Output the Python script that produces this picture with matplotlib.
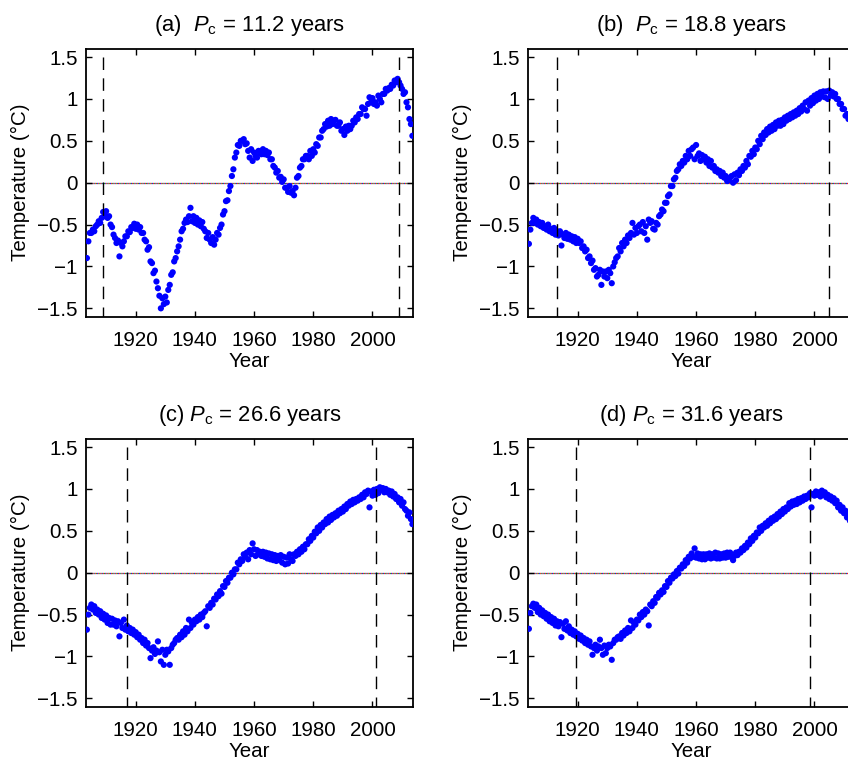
import numpy as np
import matplotlib
matplotlib.use("Agg")
import matplotlib.pyplot as plt

plt.rcParams['font.family'] = ['Liberation Sans', 'DejaVu Sans']
plt.rcParams['mathtext.fontset'] = 'custom'
plt.rcParams['mathtext.rm'] = 'Liberation Sans'
plt.rcParams['mathtext.it'] = 'Liberation Sans:italic'

# time axis: half-year steps starting 1903.5
t_start, t_step = 1903.5, 0.5

temp_a = [
    -0.90,
    -0.70, -0.60, -0.60, -0.56, -0.58, -0.52, -0.50, -0.46, -0.48, -0.42,
    -0.35, -0.40, -0.34, -0.42, -0.40, -0.50, -0.53, -0.62, -0.66, -0.72,
    -0.69, -0.88, -0.72, -0.76, -0.70, -0.64, -0.64, -0.58, -0.59, -0.53,
    -0.54, -0.49, -0.55, -0.50, -0.56, -0.53, -0.60, -0.60, -0.68, -0.70,
    -0.80, -0.77, -0.94, -0.96, -1.08, -1.05, -1.18, -1.26, -1.35, -1.50,
    -1.38, -1.45, -1.36, -1.43, -1.28, -1.22, -1.10, -1.07, -0.94, -0.90,
    -0.82, -0.76, -0.68, -0.58, -0.55, -0.48, -0.44, -0.47, -0.40, -0.30,
    -0.46, -0.40, -0.48, -0.42, -0.50, -0.45, -0.52, -0.47, -0.55, -0.58,
    -0.66, -0.60, -0.68, -0.72, -0.65, -0.74, -0.68, -0.60, -0.62, -0.54,
    -0.50, -0.38, -0.34, -0.22, -0.21, -0.10, -0.04, 0.08, 0.16, 0.30,
    0.36, 0.45, 0.44, 0.50, 0.50, 0.52, 0.46, 0.47, 0.38, 0.30,
    0.40, 0.26, 0.36, 0.32, 0.30, 0.38, 0.36, 0.34, 0.40, 0.34,
    0.38, 0.33, 0.36, 0.28, 0.28, 0.20, 0.18, 0.12, 0.14, 0.06,
    0.07, 0.01, 0.04, -0.06, -0.06, -0.11, -0.04, -0.12, -0.10, -0.15,
    -0.06, 0.06, 0.08, 0.18, 0.20, 0.28, 0.28, 0.32, 0.32, 0.28,
    0.38, 0.32, 0.40, 0.36, 0.46, 0.44, 0.54, 0.54, 0.62, 0.64,
    0.70, 0.67, 0.74, 0.68, 0.76, 0.70, 0.74, 0.75, 0.68, 0.68,
    0.72, 0.62, 0.64, 0.57, 0.67, 0.62, 0.68, 0.64, 0.68, 0.74,
    0.72, 0.78, 0.76, 0.82, 0.82, 0.90, 0.88, 0.88, 0.80, 0.94,
    1.02, 0.96, 1.01, 0.94, 0.96, 0.92, 1.04, 1.00, 0.96, 1.06,
    1.06, 1.12, 1.10, 1.13, 1.12, 1.17, 1.16, 1.22, 1.20, 1.24,
    1.20, 1.16, 1.12, 1.06, 1.08, 0.96, 0.90, 0.76, 0.70, 0.56,
]

temp_b = [
    -0.73,
    -0.56, -0.48, -0.42, -0.48, -0.44, -0.50, -0.47, -0.52, -0.48, -0.54,
    -0.52, -0.56, -0.50, -0.58, -0.55, -0.60, -0.54, -0.62, -0.58, -0.63,
    -0.58, -0.75, -0.62, -0.66, -0.60, -0.67, -0.62, -0.68, -0.64, -0.70,
    -0.65, -0.72, -0.67, -0.72, -0.70, -0.78, -0.76, -0.82, -0.80, -0.90,
    -0.88, -0.96, -0.93, -1.04, -1.02, -1.12, -1.10, -1.04, -1.22, -1.06,
    -1.12, -1.06, -1.14, -1.04, -1.08, -1.20, -1.00, -0.95, -0.90, -0.88,
    -0.78, -0.82, -0.72, -0.76, -0.68, -0.72, -0.63, -0.66, -0.60, -0.48,
    -0.62, -0.54, -0.60, -0.52, -0.50, -0.58, -0.47, -0.60, -0.52, -0.68,
    -0.44, -0.48, -0.46, -0.55, -0.56, -0.48, -0.50, -0.40, -0.38, -0.32,
    -0.34, -0.24, -0.24, -0.16, -0.14, -0.04, -0.04, 0.04, 0.06, 0.14,
    0.16, 0.22, 0.20, 0.26, 0.24, 0.32, 0.28, 0.38, 0.32, 0.40,
    0.42, 0.28, 0.45, 0.32, 0.35, 0.26, 0.33, 0.28, 0.31, 0.24,
    0.28, 0.20, 0.26, 0.18, 0.20, 0.14, 0.16, 0.12, 0.14, 0.08,
    0.12, 0.06, 0.08, 0.02, 0.03, 0.06, 0.08, 0.00, 0.10, 0.03,
    0.12, 0.09, 0.16, 0.14, 0.20, 0.18, 0.26, 0.22, 0.32, 0.31,
    0.38, 0.34, 0.42, 0.40, 0.50, 0.46, 0.56, 0.52, 0.60, 0.57,
    0.64, 0.60, 0.67, 0.62, 0.69, 0.64, 0.72, 0.68, 0.74, 0.68,
    0.75, 0.70, 0.78, 0.74, 0.80, 0.76, 0.82, 0.78, 0.84, 0.80,
    0.86, 0.82, 0.89, 0.85, 0.92, 0.88, 0.96, 0.86, 0.98, 0.92,
    1.01, 0.95, 1.04, 0.98, 1.06, 1.00, 1.08, 1.03, 1.09, 1.02,
    1.09, 1.00, 1.10, 1.04, 1.08, 1.03, 1.06, 1.00, 1.00, 0.94,
    0.94, 0.88, 0.88, 0.80, 0.82, 0.76, 0.78, 0.72, 0.72, 0.68,
]

temp_c = [
    -0.68,
    -0.50, -0.42, -0.38, -0.44, -0.40, -0.48, -0.44, -0.50, -0.46, -0.54,
    -0.49, -0.56, -0.51, -0.60, -0.54, -0.62, -0.55, -0.62, -0.57, -0.64,
    -0.58, -0.76, -0.60, -0.66, -0.56, -0.68, -0.63, -0.70, -0.66, -0.72,
    -0.68, -0.74, -0.71, -0.77, -0.74, -0.80, -0.78, -0.84, -0.80, -0.87,
    -0.84, -0.90, -1.02, -0.93, -0.89, -0.97, -0.93, -0.82, -0.95, -1.06,
    -0.92, -1.10, -0.98, -0.92, -0.94, -1.10, -0.90, -0.86, -0.84, -0.80,
    -0.78, -0.80, -0.74, -0.77, -0.70, -0.74, -0.66, -0.70, -0.56, -0.66,
    -0.60, -0.62, -0.56, -0.58, -0.53, -0.56, -0.50, -0.53, -0.48, -0.46,
    -0.64, -0.40, -0.42, -0.36, -0.38, -0.31, -0.32, -0.26, -0.28, -0.22,
    -0.25, -0.16, -0.17, -0.10, -0.12, -0.06, -0.06, 0.00, -0.02, 0.04,
    0.04, 0.12, 0.10, 0.16, 0.14, 0.22, 0.19, 0.24, 0.16, 0.27,
    0.22, 0.35, 0.28, 0.20, 0.27, 0.22, 0.25, 0.20, 0.25, 0.19,
    0.24, 0.17, 0.23, 0.16, 0.22, 0.15, 0.21, 0.14, 0.20, 0.15,
    0.21, 0.12, 0.19, 0.10, 0.18, 0.11, 0.22, 0.16, 0.14, 0.22,
    0.20, 0.25, 0.22, 0.28, 0.25, 0.31, 0.28, 0.34, 0.34, 0.40,
    0.38, 0.44, 0.42, 0.49, 0.47, 0.54, 0.50, 0.57, 0.54, 0.60,
    0.58, 0.64, 0.60, 0.67, 0.63, 0.69, 0.66, 0.71, 0.68, 0.74,
    0.71, 0.76, 0.73, 0.79, 0.76, 0.82, 0.80, 0.85, 0.82, 0.87,
    0.84, 0.88, 0.86, 0.90, 0.88, 0.93, 0.90, 0.96, 0.94, 0.98,
    0.78, 0.97, 0.92, 0.99, 0.93, 1.00, 0.95, 1.02, 0.99, 1.01,
    0.96, 1.00, 0.96, 0.98, 0.93, 0.97, 0.91, 0.94, 0.88, 0.90,
    0.84, 0.88, 0.80, 0.84, 0.76, 0.74, 0.68, 0.72, 0.64, 0.58,
]

temp_d = [
    -0.67,
    -0.48, -0.40, -0.37, -0.42, -0.38, -0.47, -0.42, -0.50, -0.45, -0.52,
    -0.48, -0.55, -0.50, -0.58, -0.53, -0.60, -0.55, -0.63, -0.58, -0.64,
    -0.59, -0.77, -0.61, -0.67, -0.58, -0.69, -0.64, -0.72, -0.68, -0.74,
    -0.70, -0.76, -0.73, -0.79, -0.75, -0.81, -0.78, -0.84, -0.80, -0.86,
    -0.82, -0.88, -0.98, -0.90, -0.86, -0.93, -0.88, -0.80, -0.90, -0.98,
    -0.87, -0.96, -0.90, -0.86, -0.88, -1.04, -0.84, -0.80, -0.80, -0.77,
    -0.76, -0.79, -0.72, -0.75, -0.69, -0.72, -0.66, -0.70, -0.57, -0.66,
    -0.60, -0.62, -0.56, -0.57, -0.50, -0.53, -0.47, -0.50, -0.44, -0.46,
    -0.63, -0.38, -0.40, -0.34, -0.36, -0.29, -0.30, -0.24, -0.26, -0.21,
    -0.23, -0.16, -0.17, -0.10, -0.12, -0.06, -0.07, -0.02, -0.04, 0.02,
    -0.01, 0.06, 0.05, 0.10, 0.08, 0.15, 0.12, 0.19, 0.17, 0.23,
    0.19, 0.29, 0.18, 0.23, 0.17, 0.22, 0.16, 0.22, 0.16, 0.22,
    0.18, 0.23, 0.17, 0.22, 0.18, 0.24, 0.17, 0.23, 0.17, 0.22,
    0.18, 0.23, 0.18, 0.24, 0.19, 0.24, 0.19, 0.15, 0.20, 0.24,
    0.21, 0.25, 0.24, 0.29, 0.27, 0.32, 0.30, 0.36, 0.34, 0.41,
    0.38, 0.44, 0.42, 0.48, 0.47, 0.54, 0.50, 0.56, 0.54, 0.59,
    0.56, 0.62, 0.59, 0.65, 0.62, 0.67, 0.64, 0.70, 0.67, 0.73,
    0.70, 0.76, 0.73, 0.78, 0.76, 0.83, 0.79, 0.85, 0.81, 0.86,
    0.82, 0.88, 0.84, 0.89, 0.86, 0.91, 0.88, 0.92, 0.90, 0.95,
    0.78, 0.94, 0.92, 0.97, 0.93, 0.96, 0.91, 0.98, 0.93, 0.96,
    0.90, 0.93, 0.88, 0.91, 0.86, 0.89, 0.83, 0.86, 0.78, 0.81,
    0.74, 0.78, 0.71, 0.74, 0.66, 0.70, 0.62, 0.66, 0.58, 0.62,
]

panel_labels = ["(a)  ", "(b)  ", "(c) ", "(d) "]
cutoff_periods = ["11.2", "18.8", "26.6", "31.6"]
dashed_left = [1909.0, 1913.0, 1916.9, 1919.5]
dashed_right = [2009.0, 2004.9, 2001.3, 1998.5]

x_ticks = [1920, 1940, 1960, 1980, 2000]
y_ticks = [-1.5, -1, -0.5, 0, 0.5, 1, 1.5]
y_ticklabels = ["\u22121.5", "\u22121", "\u22120.5", "0", "0.5", "1", "1.5"]
x_limits = (1903.2, 2013.7)
y_limits = (-1.6, 1.6)

series = [temp_a, temp_b, temp_c, temp_d]

fig = plt.figure(figsize=(8.48, 7.6), dpi=100)

W, H = 848.0, 760.0
ax_w = 327.0 / W
ax_h = 268.0 / H
lefts = [86.0 / W, 528.0 / W]
bottoms = [(H - 316.7) / H, (H - 706.7) / H]

fs = 14.8
for i in range(4):
    r, c = divmod(i, 2)
    ax = fig.add_axes([lefts[c], bottoms[r], ax_w, ax_h])
    vals = np.array(series[i])
    t = t_start + t_step * np.arange(len(vals))

    # zero line (multi-coloured dotted, MATLAB-like)
    for k, col in enumerate(['#0000ff', '#00a000', '#ff0000']):
        ax.plot(x_limits, [0, 0], color=col, lw=0.9, ls=(k * 0.7, (0.7, 1.4)), zorder=1)

    ax.scatter(t, vals, s=20, color='#0000ff', edgecolors='none', zorder=3)

    for xv in (dashed_left[i], dashed_right[i]):
        ax.plot([xv, xv], [1.5, y_limits[0]], color='black', lw=1.0,
                dashes=(9.0, 6.0), zorder=4)

    ax.set_xlim(*x_limits)
    ax.set_ylim(*y_limits)
    ax.set_xticks(x_ticks)
    ax.set_xticklabels([str(v) for v in x_ticks], fontsize=fs)
    ax.set_yticks(y_ticks)
    ax.set_yticklabels(y_ticklabels, fontsize=fs)
    ax.tick_params(direction='in', length=4, width=1.0, top=True, right=True)
    ax.tick_params(axis='x', pad=10)
    ax.tick_params(axis='y', pad=6)
    for sp in ax.spines.values():
        sp.set_linewidth(1.3)
    ax.set_xlabel("Year", fontsize=fs, labelpad=2)
    ax.set_ylabel("Temperature (\u00b0C)", fontsize=fs, labelpad=5)
    ax.set_title(panel_labels[i] + r"$P_{\rm c}$" + " = " + cutoff_periods[i] + " years",
                 fontsize=fs + 1.0, pad=13)

fig.savefig("out.png", dpi=100)
